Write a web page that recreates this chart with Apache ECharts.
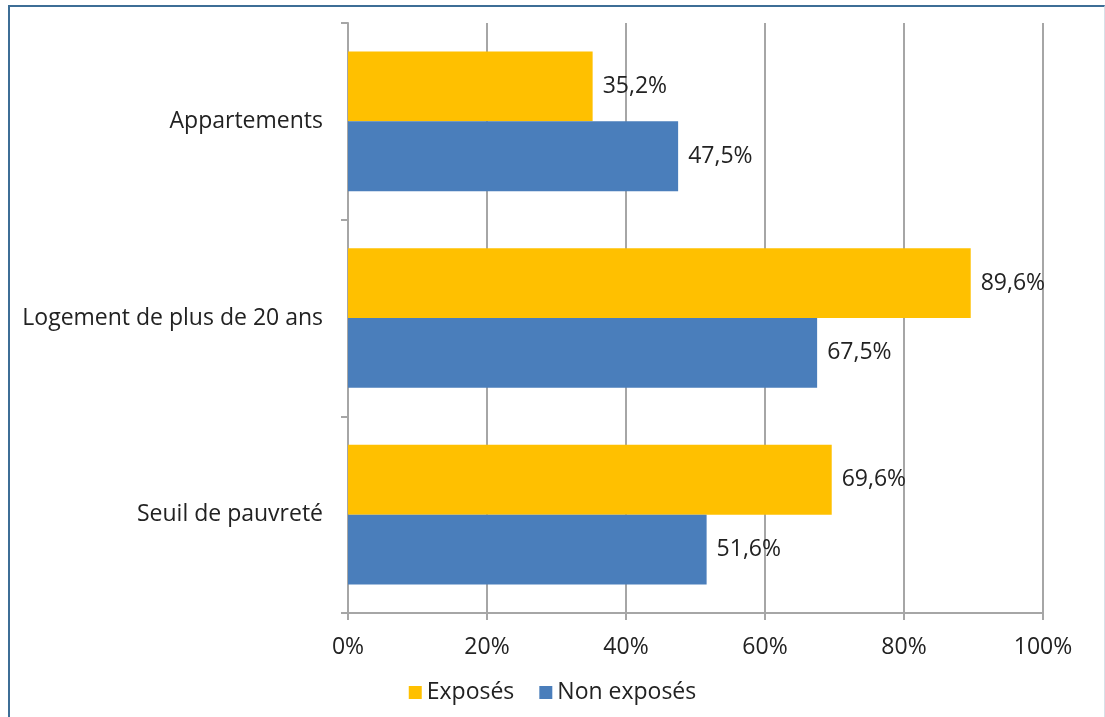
<!DOCTYPE html>
<html><head><meta charset="utf-8">
<script src="https://cdn.jsdelivr.net/npm/echarts@6/dist/echarts.min.js"></script>
<style>
html,body{margin:0;padding:0;background:#fff;}
#frame{position:absolute;left:8px;top:5px;width:1094px;height:720px;border-left:2px solid #3d6e96;border-top:2px solid #3d6e96;border-right:1px solid #d8e0e8;}
#c{position:absolute;left:0;top:0;width:1105px;height:717px;}
</style></head>
<body>
<div id="frame"></div>
<div id="c"></div>
<script>
var categories = ['Appartements', 'Logement de plus de 20 ans', 'Seuil de pauvreté'];
var exposes = [35.2, 89.6, 69.6];
var nonExposes = [47.5, 67.5, 51.6];
var seriesNames = ['Exposés', 'Non exposés'];

var chart = echarts.init(document.getElementById('c'));
var font = '"Open Sans", sans-serif';
var fs = 23;
function fmt(p){ return p.value.toFixed(1).replace('.', ',') + '%'; }
chart.setOption({
  animation: false,
  textStyle: {fontFamily: font},
  grid: {left: 348, right: 62, top: 23, bottom: 104, containLabel: false},
  legend: {
    bottom: 8, left: 'center', itemWidth: 13, itemHeight: 13, itemGap: 25,
    icon: 'rect',
    textStyle: {fontFamily: font, fontSize: fs, color: '#222'},
    data: seriesNames
  },
  xAxis: {
    type: 'value', min: 0, max: 100, interval: 20,
    axisLabel: {formatter: '{value}%', fontSize: fs, color: '#222', margin: 23, fontFamily: font},
    axisLine: {show: true, lineStyle: {color: '#a6a6a6', width: 2}},
    axisTick: {show: true, length: 7, lineStyle: {color: '#a6a6a6', width: 2}},
    splitLine: {show: true, lineStyle: {color: '#a6a6a6', width: 2}}
  },
  yAxis: {
    type: 'category', data: categories, inverse: true,
    axisLabel: {fontSize: fs, color: '#222', margin: 25, fontFamily: font},
    axisLine: {show: true, lineStyle: {color: '#a6a6a6', width: 2}},
    axisTick: {show: true, length: 7, lineStyle: {color: '#a6a6a6', width: 2}}
  },
  series: [
    {name: seriesNames[0], type: 'bar', data: exposes, barGap: '0%', barCategoryGap: '29%',
     itemStyle: {color: '#FFC000'},
     label: {show: true, position: 'right', distance: 10, formatter: fmt, fontSize: fs, color: '#222', fontFamily: font}},
    {name: seriesNames[1], type: 'bar', data: nonExposes, barGap: '0%', barCategoryGap: '29%',
     itemStyle: {color: '#4A7EBB'},
     label: {show: true, position: 'right', distance: 10, formatter: fmt, fontSize: fs, color: '#222', fontFamily: font}}
  ]
});
</script>
</body></html>
